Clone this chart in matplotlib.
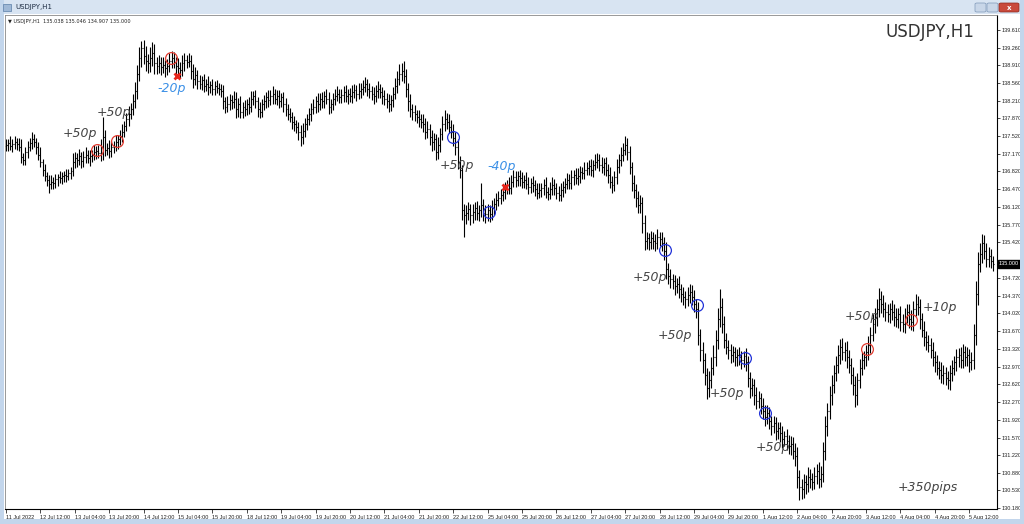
import numpy as np
import pandas as pd
import matplotlib.pyplot as plt
from matplotlib.collections import LineCollection
from matplotlib.patches import Rectangle, FancyBboxPatch

# ---------------- data ----------------
first_open = 137.32
close = [
    137.35, 137.38, 137.32, 137.36, 137.40, 137.37, 137.30, 137.10, 137.05, 137.20,
    137.30, 137.38, 137.45, 137.40, 137.30, 137.15, 137.00, 136.85, 136.72, 136.65,
    136.58, 136.62, 136.60, 136.66, 136.70, 136.68, 136.72, 136.75, 136.73, 136.78,
    136.82, 137.00, 137.08, 137.05, 137.12, 137.02, 137.10, 137.15, 137.08, 137.12,
    137.15, 137.20, 137.22, 137.18, 137.30, 137.50, 137.25, 137.28, 137.22, 137.30,
    137.32, 137.40, 137.45, 137.52, 137.60, 137.72, 137.85, 137.95, 138.05, 138.20,
    138.40, 138.75, 139.05, 139.25, 139.10, 139.00, 138.95, 139.05, 139.15, 138.95,
    138.90, 138.95, 138.88, 138.92, 138.85, 138.90, 139.00, 139.05, 138.98, 138.90,
    138.85, 138.82, 138.95, 139.02, 138.98, 139.00, 138.80, 138.65, 138.72, 138.60,
    138.55, 138.62, 138.50, 138.55, 138.48, 138.52, 138.45, 138.50, 138.47, 138.44,
    138.40, 138.20, 138.10, 138.15, 138.22, 138.18, 138.25, 138.05, 138.15, 138.00,
    138.10, 138.05, 138.15, 138.10, 138.25, 138.30, 138.20, 138.05, 138.00, 138.15,
    138.20, 138.28, 138.22, 138.30, 138.35, 138.25, 138.30, 138.20, 138.28, 138.15,
    138.05, 137.95, 137.90, 137.80, 137.75, 137.70, 137.60, 137.50, 137.62, 137.75,
    137.85, 137.95, 138.05, 138.10, 138.20, 138.15, 138.25, 138.20, 138.30, 138.25,
    138.10, 138.15, 138.25, 138.30, 138.35, 138.28, 138.32, 138.38, 138.30, 138.35,
    138.30, 138.38, 138.42, 138.35, 138.40, 138.45, 138.48, 138.55, 138.45, 138.40,
    138.35, 138.30, 138.40, 138.45, 138.38, 138.30, 138.25, 138.20, 138.15, 138.22,
    138.35, 138.50, 138.65, 138.75, 138.80, 138.70, 138.45, 138.20, 138.05, 138.00,
    137.95, 137.90, 137.85, 137.80, 137.75, 137.60, 137.65, 137.50, 137.40, 137.45,
    137.20, 137.35, 137.55, 137.75, 137.85, 137.80, 137.70, 137.60, 137.48, 137.30,
    137.00, 136.85, 136.05, 135.95, 136.00, 136.08, 135.95, 136.02, 136.10, 136.00,
    136.05, 136.15, 136.00, 135.98, 136.05, 135.98, 136.10, 136.18, 136.25, 136.30,
    136.35, 136.42, 136.48, 136.55, 136.50, 136.62, 136.70, 136.65, 136.72, 136.68,
    136.62, 136.65, 136.58, 136.52, 136.60, 136.55, 136.48, 136.40, 136.45, 136.50,
    136.55, 136.42, 136.38, 136.48, 136.55, 136.50, 136.40, 136.35, 136.45, 136.52,
    136.58, 136.65, 136.60, 136.70, 136.75, 136.68, 136.72, 136.80, 136.78, 136.85,
    136.88, 136.92, 136.85, 136.95, 137.00, 137.05, 136.95, 136.90, 136.98, 136.85,
    136.75, 136.62, 136.55, 136.70, 136.90, 137.05, 137.15, 137.25, 137.35, 137.20,
    136.90, 136.60, 136.45, 136.30, 136.15, 136.20, 135.80, 135.45, 135.50, 135.42,
    135.50, 135.45, 135.40, 135.52, 135.48, 135.40, 135.25, 134.90, 134.75, 134.70,
    134.65, 134.55, 134.60, 134.50, 134.40, 134.35, 134.30, 134.38, 134.45, 134.35,
    134.20, 134.10, 133.60, 133.30, 133.10, 132.80, 132.55, 132.70, 132.95, 133.15,
    133.50, 133.90, 134.15, 133.80, 133.50, 133.35, 133.30, 133.20, 133.25, 133.15,
    133.20, 133.15, 133.10, 133.18, 133.05, 132.75, 132.55, 132.60, 132.40, 132.30,
    132.35, 132.20, 132.10, 131.98, 132.05, 131.90, 131.80, 131.85, 131.70, 131.75,
    131.65, 131.55, 131.60, 131.50, 131.40, 131.45, 131.30, 131.20, 130.80, 130.60,
    130.55, 130.70, 130.65, 130.80, 130.75, 130.70, 130.82, 130.90, 130.75, 130.85,
    131.30, 131.80, 132.10, 132.40, 132.60, 132.85, 133.00, 133.20, 133.35, 133.25,
    133.30, 133.15, 133.00, 132.80, 132.60, 132.40, 132.70, 132.95, 133.10, 133.15,
    133.25, 133.40, 133.60, 133.80, 133.95, 134.10, 134.30, 134.20, 134.10, 134.05,
    134.00, 134.10, 134.05, 133.95, 133.90, 134.00, 133.85, 133.80, 133.95, 134.05,
    133.90, 133.85, 134.10, 134.20, 134.15, 133.90, 133.70, 133.55, 133.45, 133.40,
    133.30, 133.15, 133.05, 132.95, 132.90, 132.80, 132.85, 132.75, 132.70, 132.85,
    132.95, 133.05, 133.15, 133.20, 133.10, 133.25, 133.15, 133.20, 133.05, 133.10,
    133.60, 134.40, 135.00, 135.20, 135.40, 135.25, 135.10, 135.15, 135.05, 135.00,
]

# wicks beyond the bar body, in pips
upper_wick = [
    11, 8, 14, 9, 12, 7, 10, 15, 8, 10,   12, 9, 14, 10, 8, 9, 15, 7, 11, 8,
    9, 12, 8, 11, 7, 13, 9, 8, 11, 9,   8, 18, 13, 10, 14, 9, 12, 16, 10, 13,
    9, 15, 10, 12, 16, 40, 13, 10, 15, 12,   10, 13, 9, 12, 15, 10, 13, 16, 12, 15,
    18, 16, 22, 15, 16, 20, 13, 22, 22, 18,   13, 16, 12, 15, 10, 13, 16, 15, 12, 10,
    15, 12, 16, 13, 10, 15, 12, 13, 16, 10,   12, 9, 13, 10, 15, 9, 12, 10, 13, 9,
    10, 13, 9, 15, 12, 10, 16, 13, 12, 15,   9, 12, 10, 13, 15, 10, 12, 9, 13, 10,
    13, 10, 15, 12, 16, 10, 13, 12, 9, 10,   12, 9, 13, 10, 12, 9, 10, 13, 15, 12,
    10, 13, 12, 15, 10, 16, 12, 13, 10, 15,   13, 10, 12, 15, 16, 10, 13, 12, 15, 10,
    12, 15, 13, 10, 16, 12, 15, 13, 10, 12,   10, 13, 12, 15, 9, 10, 13, 12, 15, 10,
    13, 16, 15, 18, 16, 20, 13, 12, 15, 10,   12, 9, 13, 10, 15, 12, 16, 10, 13, 12,
    10, 15, 13, 16, 18, 12, 15, 13, 16, 12,   15, 13, 10, 12, 15, 13, 10, 16, 12, 13,
    10, 45, 12, 15, 13, 10, 16, 12, 15, 13,   12, 15, 13, 10, 16, 12, 15, 13, 10, 12,
    13, 10, 15, 12, 9, 13, 10, 12, 15, 10,   12, 15, 10, 13, 16, 12, 10, 13, 15, 12,
    10, 13, 12, 15, 10, 13, 16, 12, 10, 15,   13, 12, 15, 10, 16, 13, 12, 15, 10, 13,
    12, 15, 10, 13, 16, 12, 15, 13, 16, 12,   13, 10, 15, 12, 13, 16, 12, 15, 13, 10,
    15, 12, 13, 16, 10, 15, 13, 18, 12, 15,   10, 13, 12, 15, 10, 13, 12, 16, 15, 12,
    13, 10, 15, 12, 16, 13, 15, 18, 20, 25,   20, 22, 35, 18, 16, 13, 15, 12, 13, 10,
    12, 15, 13, 10, 16, 13, 12, 15, 13, 16,   13, 10, 15, 12, 16, 13, 10, 15, 12, 13,
    12, 15, 10, 13, 12, 15, 13, 16, 18, 13,   15, 16, 13, 18, 15, 13, 16, 15, 18, 16,
    18, 20, 16, 18, 20, 16, 18, 20, 16, 18,   16, 18, 15, 13, 16, 18, 15, 17, 16, 13,
    15, 18, 16, 20, 18, 20, 22, 16, 18, 15,   16, 13, 18, 15, 17, 13, 16, 15, 18, 16,
    15, 18, 16, 20, 17, 15, 13, 16, 12, 15,   13, 16, 12, 15, 13, 16, 15, 12, 13, 16,
    15, 12, 16, 13, 15, 17, 13, 16, 12, 15,   20, 25, 22, 20, 18, 16, 15, 17, 13, 10,
]
lower_wick = [
    10, 12, 8, 11, 10, 13, 8, 12, 11, 10,   11, 8, 12, 10, 13, 11, 10, 12, 8, 11,
    18, 11, 13, 10, 12, 8, 11, 10, 12, 8,   11, 10, 12, 15, 10, 13, 11, 12, 10, 15,
    12, 11, 13, 10, 15, 25, 12, 11, 13, 12,   11, 10, 13, 11, 12, 10, 11, 13, 10, 12,
    13, 16, 15, 18, 16, 20, 18, 16, 15, 20,   16, 13, 15, 12, 16, 13, 11, 15, 13, 18,
    13, 16, 12, 15, 13, 11, 16, 18, 13, 15,   11, 13, 12, 10, 15, 11, 13, 12, 10, 11,
    12, 15, 13, 11, 12, 13, 11, 18, 15, 13,   12, 13, 11, 15, 10, 12, 13, 16, 12, 11,
    11, 13, 12, 10, 15, 11, 12, 13, 11, 15,   13, 12, 11, 15, 13, 12, 16, 18, 13, 12,
    12, 11, 13, 10, 12, 15, 11, 13, 12, 11,   15, 12, 11, 13, 10, 12, 11, 13, 12, 15,
    11, 13, 12, 15, 11, 13, 12, 10, 15, 13,   12, 15, 11, 13, 12, 15, 13, 12, 16, 13,
    12, 11, 13, 12, 15, 13, 16, 18, 15, 16,   13, 12, 15, 13, 16, 15, 13, 16, 18, 15,
    16, 13, 15, 12, 13, 15, 12, 13, 15, 16,   13, 16, 18, 42, 16, 13, 18, 15, 16, 13,
    16, 13, 15, 18, 13, 16, 12, 15, 13, 12,   13, 12, 15, 11, 13, 12, 11, 13, 12, 15,
    12, 13, 11, 15, 12, 13, 15, 12, 11, 13,   15, 12, 13, 11, 12, 15, 13, 12, 11, 13,
    12, 11, 13, 12, 15, 11, 12, 13, 11, 12,   11, 13, 12, 15, 11, 12, 13, 11, 15, 12,
    15, 13, 16, 12, 13, 11, 12, 13, 11, 15,   13, 16, 15, 18, 16, 15, 20, 18, 16, 15,
    13, 16, 15, 12, 13, 16, 18, 20, 16, 18,   15, 16, 13, 17, 15, 16, 18, 13, 15, 16,
    16, 18, 20, 22, 25, 20, 22, 18, 16, 15,   16, 18, 15, 17, 16, 13, 18, 16, 15, 17,
    16, 15, 17, 13, 16, 18, 20, 16, 18, 16,   15, 17, 16, 18, 15, 16, 18, 15, 17, 16,
    16, 18, 15, 17, 16, 18, 16, 20, 22, 26,   20, 18, 20, 16, 18, 17, 15, 16, 18, 16,
    16, 18, 20, 16, 18, 15, 17, 16, 18, 16,   18, 20, 16, 18, 20, 22, 18, 16, 15, 17,
    16, 15, 17, 13, 16, 18, 15, 17, 16, 18,   15, 17, 16, 18, 15, 16, 17, 15, 16, 13,
    16, 15, 17, 13, 16, 18, 15, 17, 16, 15,   17, 16, 18, 15, 17, 16, 18, 15, 17, 20,
    16, 15, 17, 18, 16, 15, 17, 16, 18, 15,   18, 20, 22, 16, 18, 15, 17, 16, 13, 15,
]

price_ticks = [139.610, 139.260, 138.910, 138.560, 138.210, 137.870, 137.520,
               137.170, 136.820, 136.470, 136.120, 135.770, 135.420, 134.720,
               134.370, 134.020, 133.670, 133.320, 132.970, 132.620, 132.270,
               131.920, 131.570, 131.220, 130.880, 130.530, 130.180]
last_price = 135.000

# trade marks: (bar index, price)
entry_win_i = [42.3, 51.6, 76.7, 400.5, 420.9]
entry_win_p = [137.25, 137.42, 139.06, 133.31, 133.88]
entry_short_i = [207.9, 224.7, 306.5, 321.4, 343.7, 353.0]
entry_short_p = [137.50, 136.01, 135.26, 134.18, 133.13, 132.05]
stop_i = [79.5, 232.1]
stop_p = [138.70, 136.52]

notes = ['+50p', '+50p', '+50p', '+50p', '+50p', '+50p', '+50p', '+50p', '+10p', '+350pips']
notes_i = [34.4, 50.2, 209.8, 299.5, 311.2, 335.3, 356.7, 398.1, 434.4, 428.8]
notes_p = [137.56, 137.99, 136.93, 134.73, 133.59, 132.44, 131.38, 133.96, 134.14, 130.59]
loss_notes = ['-20p', '-40p']
loss_i = [77.2, 230.7]
loss_p = [138.45, 136.91]

# ---------------- bars ----------------
close = np.array(close)
opens = np.r_[first_open, close[:-1]]
highs = np.maximum(opens, close) + np.array(upper_wick) / 100
lows = np.minimum(opens, close) - np.array(lower_wick) / 100
n = len(close)
idx = np.arange(n)

times = pd.date_range('2022-07-11 20:00', '2022-08-05 23:00', freq='h')
times = times[times.dayofweek < 5][:n]

W, H = 1024, 524
fig = plt.figure(figsize=(W / 100, H / 100), dpi=100)
fig.patch.set_facecolor('white')

# window chrome
fig.patches.append(Rectangle((0, 1 - 14 / H), 1, 14 / H, transform=fig.transFigure,
                             facecolor='#d8e4f2', edgecolor='none'))
fig.patches.append(Rectangle((0, 0), 4 / W, 1, transform=fig.transFigure,
                             facecolor='#c3d6ec', edgecolor='none'))
fig.patches.append(Rectangle((1 - 4 / W, 0), 4 / W, 1, transform=fig.transFigure,
                             facecolor='#c3d6ec', edgecolor='none'))
fig.patches.append(Rectangle((0, 0), 1, 5 / H, transform=fig.transFigure,
                             facecolor='#c3d6ec', edgecolor='none'))
fig.patches.append(Rectangle((3 / W, 1 - 11 / H), 8 / W, 7 / H, transform=fig.transFigure,
                             facecolor='#9fb8d6', edgecolor='#5a7ea8', linewidth=0.5))
fig.text(15 / W, 1 - 7 / H, 'USDJPY,H1', fontsize=5, color='#1e2d44', va='center')
for bx in [975, 987]:
    fig.patches.append(FancyBboxPatch((bx / W, 1 - 12 / H), 11 / W, 9 / H,
                                      boxstyle='round,pad=0,rounding_size=0.002',
                                      transform=fig.transFigure, facecolor='#c8d6e8',
                                      edgecolor='#7e98b8', linewidth=0.5))
fig.patches.append(FancyBboxPatch((999 / W, 1 - 12 / H), 20 / W, 9 / H,
                                  boxstyle='round,pad=0,rounding_size=0.002',
                                  transform=fig.transFigure, facecolor='#c94a3c',
                                  edgecolor='#8e2a20', linewidth=0.5))
fig.text(1009 / W, 1 - 7.5 / H, 'x', fontsize=5, color='white', ha='center', va='center',
         fontweight='bold')

ax = fig.add_axes([5 / W, 15 / H, 992 / W, 494 / H])
ax.set_facecolor('white')

segs = []
for i in idx:
    segs.append([(i, lows[i]), (i, highs[i])])
    segs.append([(i - 0.45, opens[i]), (i, opens[i])])
    segs.append([(i, close[i]), (i + 0.45, close[i])])
ax.add_collection(LineCollection(segs, colors='black', linewidths=0.8))

ax.set_xlim(-0.47, 460.9)
ax.set_ylim(130.16, 139.905)

# price axis
ax.yaxis.tick_right()
ax.set_yticks(price_ticks)
ax.set_yticklabels([f'{v:.3f}' for v in price_ticks])
ax.tick_params(axis='y', direction='out', length=2, width=0.5, pad=1.5,
               labelsize=4, labelcolor='#222222')

# time axis
xt = [0] + list(range(16, n, 16))
xl = []
for k in xt:
    t = times[k]
    xl.append(f'{t.day} {t:%b %Y}' if k == 0 else f'{t.day} {t:%b %H:%M}')
ax.set_xticks(xt)
ax.set_xticklabels(xl)
for lab in ax.get_xticklabels():
    lab.set_horizontalalignment('left')
ax.tick_params(axis='x', direction='out', length=3, width=0.5, pad=1,
               labelsize=4, labelcolor='#222222')

for s in ['right', 'bottom']:
    ax.spines[s].set_color('black')
    ax.spines[s].set_linewidth(0.8)
for s in ['left', 'top']:
    ax.spines[s].set_color('#888888')
    ax.spines[s].set_linewidth(0.6)

for lab in ax.get_xticklabels() + ax.get_yticklabels():
    lab.set_fontfamily('Liberation Sans')

# last price tag
ax.text(1.002, last_price, f'{last_price:.3f}', transform=ax.get_yaxis_transform(),
        fontsize=4, color='white', va='center', ha='left', family='Liberation Sans',
        bbox=dict(boxstyle='square,pad=0.25', facecolor='black', edgecolor='black'))

# header info
ax.text(0.003, 0.987, '\u25bc USDJPY,H1  135.038 135.046 134.907 135.000',
        transform=ax.transAxes, fontsize=3.6, color='#222222', va='center',
        family='DejaVu Sans')

# trade marks
ax.plot(entry_win_i, entry_win_p, 'o', ms=8.5, mfc='none', mec='#e23b30', mew=0.9)
ax.plot(entry_short_i, entry_short_p, 'o', ms=8.5, mfc='none', mec='#2233d8', mew=0.9)
ax.plot(stop_i, stop_p, 'x', ms=5, mec='#e8261c', mew=2)

for t, xi, yp in zip(notes, notes_i, notes_p):
    ax.text(xi, yp, t, fontsize=9, style='italic', color='#444444',
            ha='center', va='center')
for t, xi, yp in zip(loss_notes, loss_i, loss_p):
    ax.text(xi, yp, t, fontsize=9, style='italic', color='#3a8fe6',
            ha='center', va='center')
ax.text(429.8, 139.57, 'USDJPY,H1', fontsize=12, color='#333333',
        ha='center', va='center')

fig.savefig('out.png', dpi=100)
